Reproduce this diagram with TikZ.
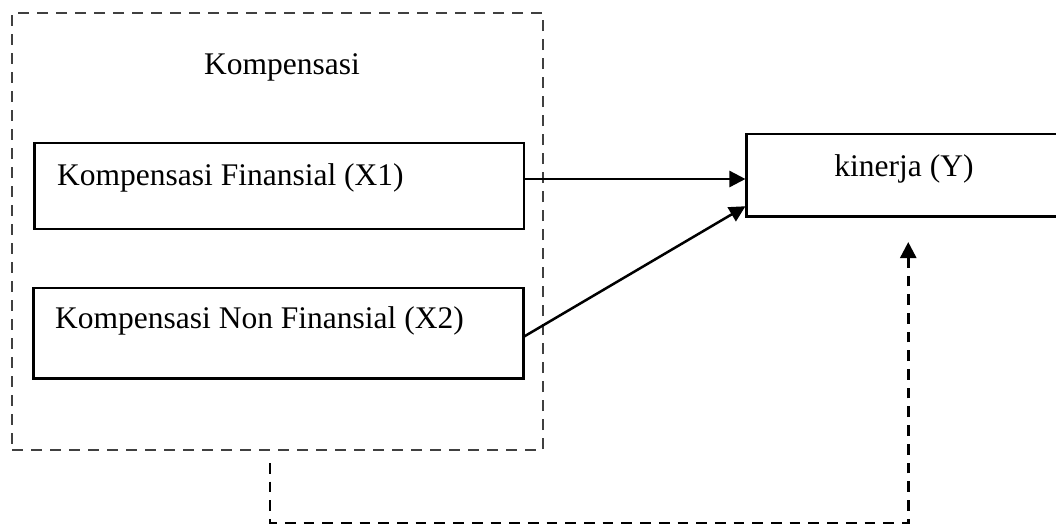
\documentclass[tikz,border=0pt]{standalone}
\usepackage{fontspec}
\setmainfont{Liberation Serif}
\usetikzlibrary{arrows.meta,calc}
\begin{document}
\begin{tikzpicture}[x=1pt,y=-1pt,
  every node/.style={font=\fontsize{31.5}{38}\selectfont},
  box/.style={draw=black,line width=2.1pt,inner sep=0pt,rectangle},
  groupbox/.style={draw=black!75,line width=2.6pt,dash pattern=on 11pt off 8pt,inner sep=0pt,rectangle},
  lbl/.style={inner sep=0pt},
  arr/.style={line width=2.5pt,-{Triangle[length=16pt,width=16pt]}},
  darr/.style={line width=2.6pt,dash pattern=on 10.7pt off 8pt,-{Triangle[length=16pt,width=16pt]}}
]
\useasboundingbox (0,0) rectangle (1056,525);
\clip (0,0) rectangle (1056,525);
% group box
\node[groupbox,minimum width=531pt,minimum height=437pt] (komp) at (277.5,231.5) {};
\node[lbl,anchor=base] (kompl) at (282,74) {Kompensasi};
% X1
\node[box,minimum width=489.5pt,minimum height=86pt] (x1) at (279.25,186) {};
\node[lbl,anchor=base west] (x1l) at (57,185) {Kompensasi Finansial (X1)};
% X2
\node[box,minimum width=490pt,minimum height=90.5pt] (x2) at (278.5,333.25) {};
\node[lbl,anchor=base west] (x2l) at (55,328.5) {Kompensasi Non Finansial (X2)};
% Y
\node[box,minimum width=315.5pt,minimum height=82.5pt] (y) at (904.25,175.25) {};
\node[lbl,anchor=base] (yl) at (904,176) {kinerja (Y)};
% arrows
\draw[arr] ([yshift=7pt]x1.east) -- ([yshift=7pt]x1.east -| y.west);
\draw[arr] ([yshift=-3pt]x2.east) -- ([yshift=-31pt]y.west);
\coordinate (cs) at (270,463);
\draw[darr] (cs) |- (523,523) -| ([xshift=4pt,yshift=-24.5pt]y.south);
\end{tikzpicture}
\end{document}
